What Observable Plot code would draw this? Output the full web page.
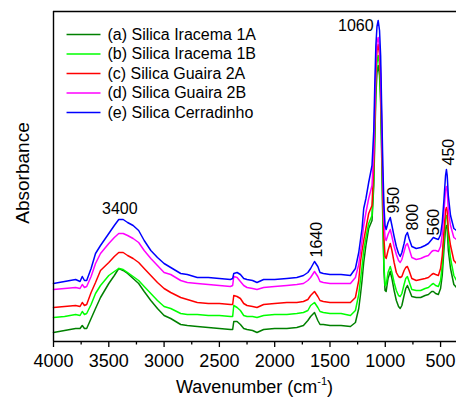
<!DOCTYPE html>
<html><head><meta charset="utf-8">
<script src="https://cdn.jsdelivr.net/npm/d3@7"></script>
<script src="https://cdn.jsdelivr.net/npm/@observablehq/plot@0.6"></script>
<style>body{margin:0;background:#fff} #chart svg{display:block}</style>
</head><body><div id="chart"></div>
<script>
// Wavenumber grid (cm-1)
const wavenumbers = [
  4000, 3900, 3800, 3760, 3740, 3720, 3700, 3660, 3620, 3575,
  3500, 3450, 3410, 3370, 3330, 3280, 3230, 3180, 3120, 3060,
  3000, 2940, 2850, 2790, 2700, 2600, 2500, 2400, 2380, 2370,
  2340, 2310, 2280, 2250, 2200, 2160, 2100, 2000, 1890, 1800,
  1740, 1700, 1675, 1640, 1610, 1590, 1560, 1500, 1400, 1315,
  1270, 1240, 1225, 1210, 1195, 1175, 1150, 1120, 1104, 1095,
  1085, 1075, 1064, 1052, 1042, 1032, 1022, 1012, 1002, 992,
  975, 955, 940, 920, 900, 880, 865, 850, 830, 815,
  800, 785, 760, 720, 680, 640, 610, 580, 565, 545,
  520, 500, 485, 470, 455, 447, 440, 430, 410, 380, 356
];
// Absorbance (arbitrary units, stacked spectra)
const silicaIracema1A = [
  9, 11, 13, 13, 16, 13, 13, 23, 33, 44,
  58, 66, 73, 71, 68, 63, 58, 50, 41, 33,
  26, 23, 17, 16, 15, 14, 13, 12, 12, 20,
  20, 17, 13, 12, 11, 9, 12, 13, 13, 14,
  16, 21, 25, 29, 21, 17, 17, 16, 16, 15,
  19, 33, 46, 61, 79, 96, 113, 121, 156, 201,
  246, 269, 276, 266, 239, 183, 119, 71, 51, 50,
  63, 70, 63, 51, 41, 35, 33, 36, 46, 53,
  56, 52, 45, 44, 44, 46, 47, 50, 50, 48,
  47, 53, 66, 91, 113, 116, 113, 91, 73, 57, 54
];
const silicaIracema1B = [
  24, 25, 27, 26, 30, 27, 28, 37, 48, 56,
  66, 70, 73, 72, 69, 65, 61, 55, 48, 41,
  35, 33, 28, 27, 27, 26, 26, 25, 25, 36,
  34, 31, 26, 25, 25, 24, 26, 27, 27, 28,
  29, 31, 36, 39, 34, 30, 29, 28, 28, 26,
  31, 47, 61, 75, 91, 104, 118, 126, 163, 209,
  256, 279, 286, 276, 249, 193, 126, 76, 56, 57,
  69, 75, 69, 59, 51, 46, 45, 48, 57, 63,
  65, 60, 52, 51, 51, 53, 54, 57, 58, 56,
  55, 61, 76, 101, 123, 126, 123, 103, 83, 66, 61
];
const silicaGuaira2A = [
  34, 35, 36, 35, 39, 36, 37, 49, 59, 71,
  79, 85, 89, 89, 86, 83, 79, 73, 66, 59,
  53, 49, 44, 42, 39, 38, 38, 37, 37, 46,
  45, 43, 38, 36, 35, 34, 37, 38, 39, 39,
  40, 42, 46, 50, 45, 41, 40, 39, 39, 39,
  44, 61, 79, 91, 101, 113, 128, 136, 176, 221,
  269, 291, 297, 287, 261, 206, 146, 103, 85, 83,
  91, 98, 91, 79, 69, 65, 64, 65, 71, 74,
  75, 71, 63, 61, 62, 63, 64, 67, 68, 67,
  66, 73, 86, 109, 131, 134, 131, 111, 96, 81, 78
];
const silicaGuaira2B = [
  52, 53, 54, 53, 57, 54, 55, 65, 78, 88,
  98, 104, 108, 108, 106, 103, 99, 91, 83, 76,
  69, 67, 61, 59, 58, 57, 56, 55, 56, 65,
  64, 60, 56, 54, 53, 52, 54, 55, 56, 57,
  58, 61, 64, 70, 65, 60, 59, 58, 58, 58,
  64, 77, 89, 101, 116, 129, 143, 156, 191, 236,
  279, 299, 304, 294, 269, 216, 161, 121, 104, 101,
  107, 112, 105, 95, 87, 81, 79, 82, 90, 96,
  98, 93, 84, 82, 83, 85, 86, 90, 91, 91,
  90, 95, 107, 129, 151, 155, 151, 131, 116, 104, 102
];
const silicaCerradinho = [
  58, 60, 62, 60, 65, 61, 61, 73, 88, 96,
  108, 116, 122, 122, 119, 116, 111, 101, 91, 84,
  78, 74, 68, 67, 64, 64, 63, 62, 63, 68,
  69, 67, 63, 62, 61, 59, 62, 62, 63, 64,
  66, 69, 73, 80, 75, 69, 68, 67, 67, 66,
  73, 89, 101, 113, 133, 143, 159, 176, 211, 256,
  296, 315, 321, 311, 286, 231, 176, 136, 116, 112,
  119, 124, 116, 105, 95, 88, 85, 89, 98, 106,
  109, 103, 95, 93, 94, 96, 98, 102, 104, 103,
  102, 107, 119, 141, 166, 172, 166, 146, 126, 113, 111
];

const seriesNames = [
  "(a) Silica Iracema 1A",
  "(b) Silica Iracema 1B",
  "(c) Silica Guaira 2A",
  "(d) Silica Guaira 2B",
  "(e) Silica Cerradinho"
];
const seriesColors = ["#008000", "#00ff00", "#ff0000", "#ff00ff", "#0000ff"];
const majorTicks = [4000, 3500, 3000, 2500, 2000, 1500, 1000, 500];
const minorTicks = [3750, 3250, 2750, 2250, 1750, 1250, 750];
const peakBands = [3400, 1060, 1640, 950, 800, 560, 450];

const seriesValues = [silicaIracema1A, silicaIracema1B, silicaGuaira2A, silicaGuaira2B, silicaCerradinho];
const rows = seriesValues.flatMap((vals, s) =>
  vals.map((v, i) => ({w: wavenumbers[i], a: v, series: seriesNames[s]})));

// label anchor = top spectrum (Cerradinho) at the nearest grid wavenumber
function topAt(w) {
  let best = 0;
  wavenumbers.forEach((x, i) => { if (Math.abs(x - w) < Math.abs(wavenumbers[best] - w)) best = i; });
  return silicaCerradinho[best];
}
const peaks = peakBands.map(w => ({w, a: topAt(w), label: String(w)}));
const horiz3400 = peaks.filter(p => p.w === 3400);
const horiz1060 = peaks.filter(p => p.w === 1060);
const rotated = peaks.filter(p => p.w !== 3400 && p.w !== 1060);
const rotDx = {1640: 2.5, 950: 3, 800: 5, 560: 0, 450: 3};
const rotDy = {1640: -4, 950: -4, 800: -2, 560: -2, 450: -4};

const legendX1 = 3882, legendX2 = 3575, legendXT = 3512;
const legendY = (d, i) => 307 - 19.5 * i;

const font = "'Liberation Sans', Arial, Helvetica, sans-serif";

const plot = Plot.plot({
  width: 456,
  height: 398,
  marginLeft: 53,
  marginRight: 0,
  marginTop: 11,
  marginBottom: 57,
  style: {fontFamily: font, background: "#fff", color: "#000"},
  x: {domain: [4000, 356]},
  y: {domain: [0, 330], axis: null},
  color: {domain: seriesNames, range: seriesColors},
  marks: [
    Plot.line(rows, {x: "w", y: "a", z: "series", stroke: "series", strokeWidth: 1.5}),
    Plot.ruleY([0, 330], {stroke: "#000", strokeWidth: 1.4}),
    Plot.ruleX([4000], {stroke: "#000", strokeWidth: 1.4}),
    Plot.axisX({ticks: majorTicks, tickSize: 6, tickPadding: 7, fontSize: 18, tickFormat: d => String(d), label: null, strokeWidth: 1.3}),
    Plot.axisX({ticks: minorTicks, tickSize: 3.5, text: null, label: null, strokeWidth: 1.3}),
    // legend
    Plot.link(seriesNames, {x1: legendX1, x2: legendX2, y1: legendY, y2: legendY, stroke: d => d, strokeWidth: 1.5}),
    Plot.text(seriesNames, {x: legendXT, y: legendY, text: d => d, textAnchor: "start", fontSize: 16, fill: "#000"}),
    // peak labels
    Plot.text(horiz3400, {x: "w", y: "a", text: "label", lineAnchor: "bottom", dy: -6, fontSize: 16, fill: "#000"}),
    Plot.text(horiz1060, {x: "w", y: "a", text: "label", lineAnchor: "bottom", textAnchor: "end", dx: -5, dy: 10, fontSize: 16, fill: "#000"}),
    ...rotated.map(p => Plot.text([p], {x: "w", y: "a", text: "label", rotate: -90, textAnchor: "start", lineAnchor: "middle", dx: rotDx[p.w], dy: rotDy[p.w], fontSize: 16, fill: "#000"}))
  ]
});

const svg = d3.select(plot);
const xt = svg.append("text")
  .attr("x", 254.5).attr("y", 393)
  .attr("text-anchor", "middle")
  .attr("font-size", 18).attr("font-family", font).attr("fill", "#000");
xt.append("tspan").text("Wavenumber (cm");
xt.append("tspan").attr("font-size", 11).attr("dy", -8).text("-1");
xt.append("tspan").attr("dy", 8).text(")");

svg.append("text")
  .attr("transform", "translate(22,173) rotate(-90)")
  .attr("text-anchor", "middle")
  .attr("dominant-baseline", "central")
  .attr("font-size", 19).attr("font-family", font).attr("fill", "#000")
  .text("Absorbance");

document.getElementById("chart").append(plot);
</script>
</body></html>
